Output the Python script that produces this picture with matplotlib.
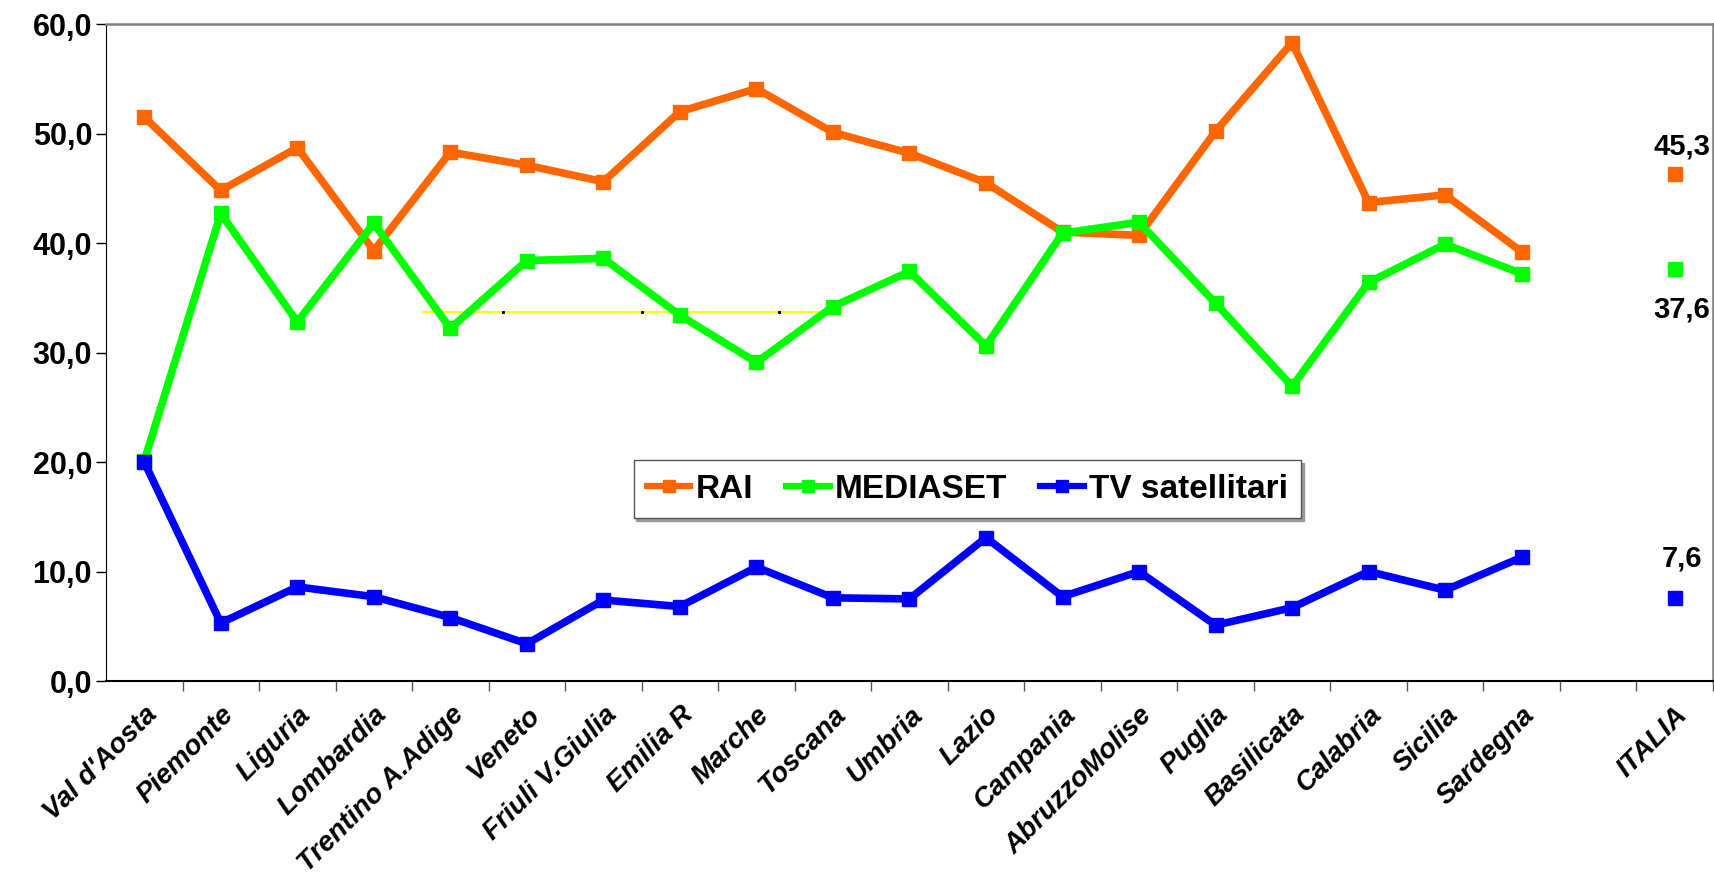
import matplotlib.pyplot as plt
import numpy as np
from matplotlib.ticker import FuncFormatter, FixedLocator

plt.rcParams['font.family'] = ['Liberation Sans', 'DejaVu Sans']

regions = ["Val d'Aosta", "Piemonte", "Liguria", "Lombardia", "Trentino A.Adige", "Veneto",
           "Friuli V.Giulia", "Emilia R", "Marche", "Toscana", "Umbria", "Lazio", "Campania",
           "AbruzzoMolise", "Puglia", "Basilicata", "Calabria", "Sicilia", "Sardegna"]
italia_label = "ITALIA"

rai = [51.5, 44.8, 48.7, 39.3, 48.3, 47.1, 45.6, 52.0, 54.1, 50.1, 48.2, 45.5, 41.0, 40.7,
       50.2, 58.3, 43.7, 44.4, 39.2]
mediaset = [20.1, 42.7, 32.8, 41.8, 32.2, 38.4, 38.6, 33.4, 29.1, 34.2, 37.4, 30.6, 40.9, 41.9,
            34.5, 26.9, 36.4, 39.9, 37.2]
satellite = [20.0, 5.3, 8.6, 7.7, 5.8, 3.4, 7.4, 6.8, 10.4, 7.6, 7.5, 13.1, 7.7, 10.0,
             5.1, 6.7, 10.0, 8.3, 11.3]

# ITALIA points (marker positions as drawn) and their printed labels
italia_values = [46.3, 37.6, 7.6]
italia_texts = ["45,3", "37,6", "7,6"]

# stray yellow segment in the original chart
yellow_x = [3.64, 9.12]
yellow_y = [33.7, 33.7]
dots_x = [4.69, 6.51, 8.30]

colors = ['#FF6600', '#00FF00', '#0000FF']
names = ['RAI', 'MEDIASET', 'TV satellitari']

fig = plt.figure(figsize=(17.15, 8.8), dpi=100)
ax = fig.add_axes([0.0618, 0.2261, 0.937, 0.7466])

x = np.arange(len(regions))
n_slots = len(regions) + 2
italia_x = n_slots - 1

ax.plot(yellow_x, yellow_y, color='#FFFF00', lw=1.5, zorder=1)
ax.plot(dots_x, [yellow_y[0]] * 3, ls='none', marker='s', ms=1.2, color='black', zorder=1)

for vals, c, name in zip([rai, mediaset, satellite], colors, names):
    ax.plot(x, vals, color=c, lw=5.5, marker='s', ms=9.5, label=name, zorder=3)

for v, t, c, dy in zip(italia_values, italia_texts, colors, [20, -29, 28]):
    ax.plot([italia_x], [v], ls='none', marker='s', ms=9.5, color=c, zorder=3)
    ax.annotate(t, (italia_x, v), xytext=(5, dy), textcoords='offset points',
                ha='center', va='center', fontsize=21, fontweight='bold')

ax.set_xlim(-0.5, n_slots - 0.5)
ax.set_ylim(0, 60)

ax.xaxis.set_major_locator(FixedLocator(np.arange(n_slots) + 0.5))
ax.xaxis.set_minor_locator(FixedLocator(list(x) + [italia_x]))
ax.set_xticklabels([])
ax.set_xticklabels(regions + [italia_label], minor=True, rotation=45, ha='right',
                   rotation_mode='anchor', fontsize=20, fontweight='bold', style='italic')
ax.tick_params(axis='x', which='major', length=7, width=1, color='#555555', direction='out')
ax.tick_params(axis='x', which='minor', length=0, pad=15)

ax.set_yticks(np.arange(0, 61, 10))
ax.yaxis.set_major_formatter(FuncFormatter(lambda v, p: f"{v:.1f}".replace('.', ',')))
ax.tick_params(axis='y', length=7, width=1, labelsize=22, pad=3)
for lab in ax.get_yticklabels():
    lab.set_fontweight('bold')

ax.spines['left'].set_color('black')
ax.spines['bottom'].set_color('black')
ax.spines['bottom'].set_linewidth(1.5)
ax.spines['top'].set_color('#808080')
ax.spines['right'].set_color('#808080')
ax.spines['top'].set_linewidth(1.8)
ax.spines['right'].set_linewidth(1.8)

leg = ax.legend(loc='center', bbox_to_anchor=(0.536, 0.292), ncol=3, fancybox=False,
                shadow={'color': '#999999', 'alpha': 1.0}, frameon=True,
                handlelength=1.3, columnspacing=1.0, handletextpad=0.15, borderpad=0.4,
                borderaxespad=0, prop={'weight': 'bold', 'size': 24})
leg.get_frame().set_edgecolor('#555555')
leg.get_frame().set_linewidth(1.0)
for h in leg.legend_handles:
    h.set_linewidth(4.5)
    h.set_markersize(8)

fig.savefig('out.png', dpi=100)
